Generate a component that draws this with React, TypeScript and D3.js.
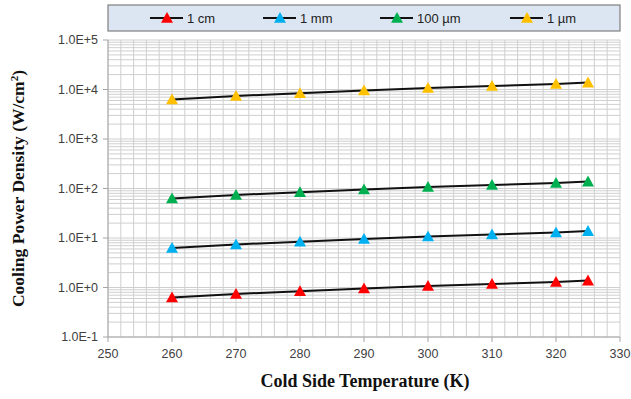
import React from "react";
import * as d3 from "d3";

const temps = [260, 270, 280, 290, 300, 310, 320, 325];
const cm1 = [0.63, 0.74, 0.84, 0.96, 1.07, 1.18, 1.29, 1.38];
const mm1 = [6.3, 7.4, 8.4, 9.6, 10.7, 11.8, 12.9, 13.8];
const um100 = [63, 74, 84, 96, 107, 118, 129, 138];
const um1 = [6300, 7400, 8400, 9600, 10700, 11800, 12900, 13800];
const seriesNames = ["1 cm", "1 mm", "100 \u00b5m", "1 \u00b5m"];
const seriesColors = ["#ff0000", "#00b0f0", "#00b050", "#ffc000"];
const xTicks = [250, 260, 270, 280, 290, 300, 310, 320, 330];
const yTicks = [0.1, 1, 10, 100, 1000, 10000, 100000];
const yTickLabels = ["1.0E-1", "1.0E+0", "1.0E+1", "1.0E+2", "1.0E+3", "1.0E+4", "1.0E+5"];

const W = 631, H = 399;
const L = 108, R = 620, T = 40, B = 337;

function tri(cx: number, cy: number, s = 6) {
  return `M${cx},${cy - s}L${cx + s},${cy + s * 0.8}L${cx - s},${cy + s * 0.8}Z`;
}

export default function App() {
  const x = d3.scaleLinear().domain([250, 330]).range([L, R]);
  const y = d3.scaleLog().domain([0.1, 100000]).range([B, T]);
  const all = [cm1, mm1, um100, um1];
  const line = d3.line<number>().x((_, i) => x(temps[i])).y((d) => y(d));

  const vGrid = d3.range(250, 331, 2);
  const hGrid: number[] = [];
  for (let e = -1; e < 5; e++) for (let m = 1; m <= 9; m++) hGrid.push(m * Math.pow(10, e));
  hGrid.push(100000);

  const legendX = [150, 263, 380, 510];
  const sans = "'Liberation Sans', Arial, sans-serif";
  const serif = "'Liberation Serif', 'Times New Roman', serif";

  return (
    <svg width={W} height={H} style={{ position: "absolute", left: 0, top: 0, background: "#fff" }}>
      <rect x={0} y={0} width={W} height={H} fill="#fff" />
      {hGrid.map((v, i) => (
        <line key={"h" + i} x1={L} x2={R} y1={y(v)} y2={y(v)} stroke="#cfcfcf" strokeWidth={1} />
      ))}
      {vGrid.map((v, i) => (
        <line key={"v" + i} x1={x(v)} x2={x(v)} y1={T} y2={B} stroke="#cfcfcf" strokeWidth={1} />
      ))}
      <line x1={L} x2={L} y1={T} y2={B} stroke="#a6a6a6" />
      <line x1={L} x2={R} y1={B} y2={B} stroke="#a6a6a6" />
      {yTicks.map((v, i) => (
        <g key={"yt" + i}>
          <line x1={L - 5} x2={L} y1={y(v)} y2={y(v)} stroke="#a6a6a6" />
          <text x={L - 10} y={y(v)} dy="0.35em" textAnchor="end" fontFamily={sans} fontSize={12.5} fill="#404040">
            {yTickLabels[i]}
          </text>
        </g>
      ))}
      {xTicks.map((v, i) => (
        <g key={"xt" + i}>
          <line x1={x(v)} x2={x(v)} y1={B} y2={B + 5} stroke="#a6a6a6" />
          <text x={x(v)} y={B + 21} textAnchor="middle" fontFamily={sans} fontSize={12.5} fill="#404040">
            {v}
          </text>
        </g>
      ))}
      {all.map((s, si) => (
        <g key={"s" + si}>
          <path d={line(s) || ""} fill="none" stroke="#111" strokeWidth={2} />
          {s.map((v, i) => (
            <path key={i} d={tri(x(temps[i]), y(v))} fill={seriesColors[si]} />
          ))}
        </g>
      ))}
      <rect x={108} y={5} width={512} height={26} fill="#dce6f2" stroke="#7f7f7f" strokeWidth={1.2} />
      {seriesNames.map((n, i) => (
        <g key={"lg" + i}>
          <line x1={legendX[i]} x2={legendX[i] + 33} y1={18} y2={18} stroke="#111" strokeWidth={2} />
          <path d={tri(legendX[i] + 17, 18)} fill={seriesColors[i]} />
          <text x={legendX[i] + 37} y={18} dy="0.35em" fontFamily={sans} fontSize={13} fill="#222">
            {n}
          </text>
        </g>
      ))}
      <text
        transform={`translate(24,${(T + B) / 2}) rotate(-90)`}
        textAnchor="middle"
        fontFamily={serif}
        fontWeight="bold"
        fontSize={17.5}
        fill="#111"
      >
        Cooling Power Density (W/cm<tspan dy="-6" fontSize={11}>2</tspan><tspan dy="6">)</tspan>
      </text>
      <text x={365} y={387} textAnchor="middle" fontFamily={serif} fontWeight="bold" fontSize={18} fill="#111">
        Cold Side Temperature (K)
      </text>
    </svg>
  );
}
